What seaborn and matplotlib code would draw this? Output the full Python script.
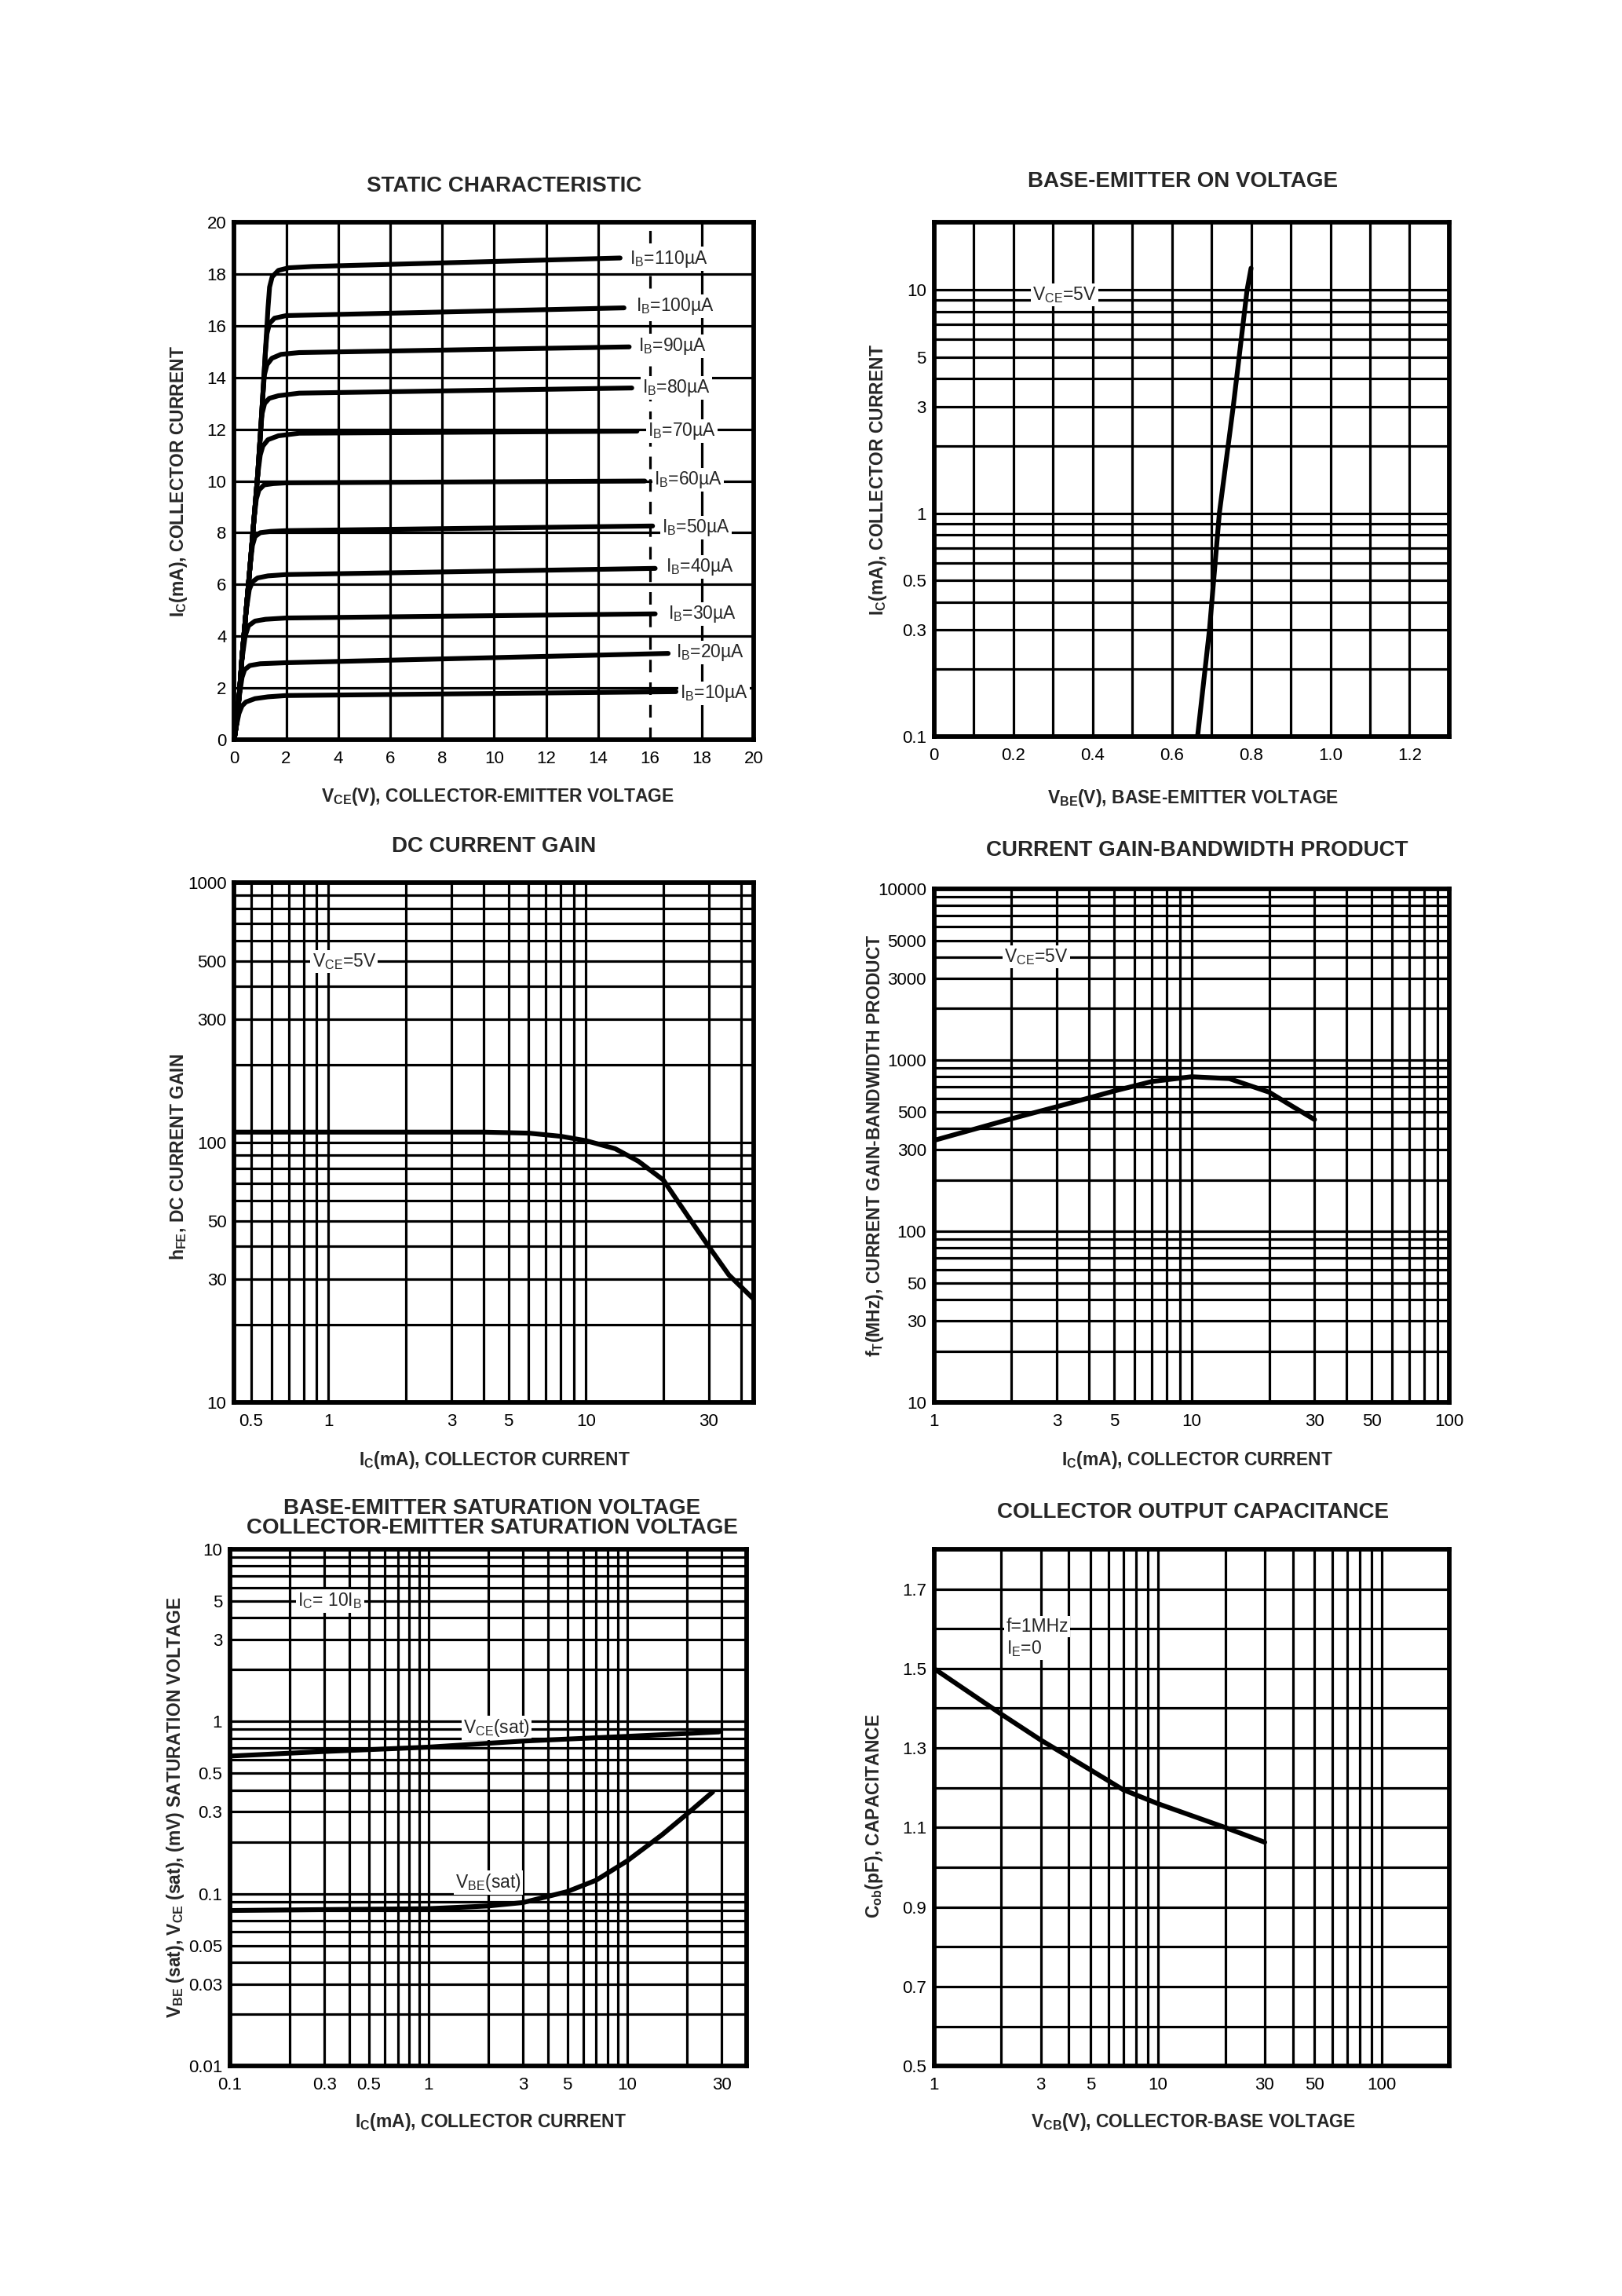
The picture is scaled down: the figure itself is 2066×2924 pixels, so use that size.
import numpy as np
import pandas as pd
import matplotlib
matplotlib.use("Agg")
import matplotlib.pyplot as plt
import seaborn as sns
from matplotlib.ticker import NullFormatter, FixedLocator, LogLocator

sns.set_style("white")
plt.rcParams['font.family'] = ['Liberation Sans', 'DejaVu Sans']
plt.rcParams['mathtext.fontset'] = 'custom'
plt.rcParams['mathtext.rm'] = 'Liberation Sans'
plt.rcParams['mathtext.it'] = 'Liberation Sans'
plt.rcParams['mathtext.bf'] = 'Liberation Sans:bold'

# ---------------- DATA ----------------
# Static characteristic: IC (mA) vs VCE (V) for IB = 10..110 uA
ib_values = [10, 20, 30, 40, 50, 60, 70, 80, 90, 100, 110]
vce_ib10 = [0, 0.08, 0.18, 0.3, 0.45, 0.8, 1.3, 2.0, 17.0]
ic_ib10 = [0, 0.5, 1.0, 1.3, 1.45, 1.58, 1.65, 1.70, 1.85]
vce_ib20 = [0, 0.1, 0.2, 0.3, 0.4, 0.6, 1.0, 2.0, 16.7]
ic_ib20 = [0, 0.7, 1.7, 2.4, 2.7, 2.86, 2.93, 2.97, 3.33]
vce_ib30 = [0, 0.1, 0.2, 0.3, 0.42, 0.55, 0.8, 1.2, 2.0, 16.2]
ic_ib30 = [0, 0.7, 1.8, 3.1, 4.0, 4.4, 4.58, 4.65, 4.70, 4.86]
vce_ib40 = [0, 0.1, 0.2, 0.3, 0.45, 0.58, 0.7, 0.9, 1.3, 2.0, 16.2]
ic_ib40 = [0, 0.7, 1.8, 3.2, 4.9, 5.8, 6.1, 6.25, 6.33, 6.38, 6.62]
vce_ib50 = [0, 0.1, 0.2, 0.3, 0.45, 0.6, 0.7, 0.8, 1.0, 1.4, 2.0, 16.1]
ic_ib50 = [0, 0.7, 1.8, 3.2, 4.9, 6.6, 7.5, 7.85, 8.0, 8.05, 8.08, 8.26]
vce_ib60 = [0, 0.1, 0.2, 0.3, 0.45, 0.6, 0.75, 0.85, 0.95, 1.15, 1.5, 2.0, 15.8]
ic_ib60 = [0, 0.7, 1.8, 3.2, 4.9, 6.6, 8.4, 9.3, 9.65, 9.85, 9.9, 9.93, 10.0]
vce_ib70 = [0, 0.1, 0.2, 0.3, 0.45, 0.6, 0.75, 0.9, 1.0, 1.1, 1.3, 1.7, 2.5, 15.5]
ic_ib70 = [0, 0.7, 1.8, 3.2, 4.9, 6.6, 8.4, 10.2, 11.0, 11.35, 11.6, 11.75, 11.85, 11.93]
vce_ib80 = [0, 0.1, 0.2, 0.3, 0.45, 0.6, 0.75, 0.9, 1.0, 1.07, 1.17, 1.35, 1.7, 2.5, 15.3]
ic_ib80 = [0, 0.7, 1.8, 3.2, 4.9, 6.6, 8.4, 10.2, 11.7, 12.6, 13.0, 13.2, 13.3, 13.4, 13.6]
vce_ib90 = [0, 0.1, 0.2, 0.3, 0.45, 0.6, 0.75, 0.9, 1.0, 1.1, 1.16, 1.26, 1.45, 1.8, 2.5, 15.2]
ic_ib90 = [0, 0.7, 1.8, 3.2, 4.9, 6.6, 8.4, 10.2, 11.7, 13.3, 14.1, 14.5, 14.75, 14.9, 14.97, 15.19]
vce_ib100 = [0, 0.1, 0.2, 0.3, 0.45, 0.6, 0.75, 0.9, 1.0, 1.1, 1.2, 1.26, 1.36, 1.55, 2.0, 15.0]
ic_ib100 = [0, 0.7, 1.8, 3.2, 4.9, 6.6, 8.4, 10.2, 11.7, 13.3, 15.0, 15.7, 16.1, 16.3, 16.4, 16.7]
vce_ib110 = [0, 0.1, 0.2, 0.3, 0.45, 0.6, 0.75, 0.9, 1.0, 1.1, 1.2, 1.3, 1.36, 1.46, 1.7, 2.1, 3.0, 14.85]
ic_ib110 = [0, 0.7, 1.8, 3.2, 4.9, 6.6, 8.4, 10.2, 11.7, 13.3, 15.0, 16.7, 17.5, 17.9, 18.15, 18.25, 18.3, 18.63]
static_vce = [vce_ib10, vce_ib20, vce_ib30, vce_ib40, vce_ib50, vce_ib60,
              vce_ib70, vce_ib80, vce_ib90, vce_ib100, vce_ib110]
static_ic = [ic_ib10, ic_ib20, ic_ib30, ic_ib40, ic_ib50, ic_ib60,
             ic_ib70, ic_ib80, ic_ib90, ic_ib100, ic_ib110]

# Base-emitter on voltage
vbe_on = [0.665, 0.695, 0.72, 0.755, 0.79, 0.80]
ic_on = [0.1, 0.3, 1.0, 3.0, 10.0, 12.5]

# DC current gain
ic_hfe = [0.43, 1, 2, 4, 6, 8, 10, 13, 16, 20, 25, 30, 36, 45]
hfe = [110, 110, 110, 110, 109, 106, 102, 95, 85, 72, 52, 40, 31, 25]

# Current gain-bandwidth product
ic_ft = [1, 2, 3, 5, 7, 10, 14, 20, 25, 30]
ft = [340, 455, 535, 660, 750, 800, 780, 650, 530, 450]

# Saturation voltages
ic_vcesat = [0.1, 0.3, 1, 3, 10, 29]
vce_sat = [0.63, 0.67, 0.71, 0.77, 0.82, 0.87]
ic_vbesat = [0.1, 0.3, 1, 2, 3, 5, 7, 10, 15, 20, 27]
vbe_sat = [0.080, 0.081, 0.082, 0.085, 0.089, 0.103, 0.12, 0.155, 0.22, 0.29, 0.39]

# Collector output capacitance
vcb = [1, 2, 3, 5, 7, 10, 20, 30]
cob = [1.50, 1.385, 1.32, 1.245, 1.195, 1.16, 1.10, 1.063]

# ---------------- FIGURE ----------------
fig = plt.figure(figsize=(20.66, 29.24), dpi=100)
W, H = 1108.0, 1568.0


def add_axes(l, t, r, b):
    return fig.add_axes([l / W, 1 - b / H, (r - l) / W, (b - t) / H])


ax1 = add_axes(160, 152, 515, 505)
ax2 = add_axes(638, 152, 990, 503)
ax3 = add_axes(160, 603, 515, 958)
ax4 = add_axes(638, 607, 990, 958)
ax5 = add_axes(157, 1058, 510, 1411)
ax6 = add_axes(638, 1058, 990, 1411)

CURVE_LW = 4.4
GRID_LW = 2.3
TICK_FS = 16
NOTE_FS = 16.5
TITLE_FS = 20
LABEL_FS = 16.5


def curve(ax, x, y):
    sns.lineplot(x=x, y=y, ax=ax, color='black', linewidth=CURVE_LW,
                 sort=False, estimator=None, zorder=3)


def style(ax, xscale, yscale, xlim, ylim, xgrid, ygrid, xticks, xlabels, yticks, ylabels):
    ax.set_xscale(xscale)
    ax.set_yscale(yscale)
    ax.set_xlim(*xlim)
    ax.set_ylim(*ylim)
    if xgrid == 'log':
        ax.xaxis.set_minor_locator(LogLocator(base=10, subs=np.arange(1, 10), numticks=60))
    else:
        ax.xaxis.set_minor_locator(FixedLocator(xgrid))
    if ygrid == 'log':
        ax.yaxis.set_minor_locator(LogLocator(base=10, subs=np.arange(1, 10), numticks=60))
    else:
        ax.yaxis.set_minor_locator(FixedLocator(ygrid))
    ax.xaxis.remove_overlapping_locs = False
    ax.yaxis.remove_overlapping_locs = False
    ax.set_xticks(xticks, xlabels)
    ax.set_yticks(yticks, ylabels)
    ax.xaxis.set_minor_formatter(NullFormatter())
    ax.yaxis.set_minor_formatter(NullFormatter())
    ax.grid(False)
    ax.grid(which='minor', color='black', lw=GRID_LW)
    ax.set_axisbelow(True)
    for s in ax.spines.values():
        s.set_visible(True)
        s.set_linewidth(4.2)
        s.set_color('black')
    ax.tick_params(axis='both', which='minor', length=0)
    ax.tick_params(axis='x', which='major', length=0, pad=10, labelsize=TICK_FS, colors='black')
    ax.tick_params(axis='y', which='major', length=5, width=1.8, pad=2,
                   labelsize=TICK_FS, direction='out', colors='black')


def labels(ax, title, tpos, xlabel, xpos, ylabel, ypos):
    ax.text(tpos[0], tpos[1], title, transform=ax.transAxes, ha='center', va='center',
            fontsize=TITLE_FS, fontweight='bold', linespacing=0.95)
    ax.set_xlabel(xlabel, fontsize=LABEL_FS, fontweight='bold', va='center')
    ax.xaxis.set_label_coords(*xpos)
    ax.set_ylabel(ylabel, fontsize=LABEL_FS, fontweight='bold', va='center')
    ax.yaxis.set_label_coords(*ypos)


def note(ax, x, y, s, ha='center'):
    ax.text(x, y, s, fontsize=NOTE_FS, ha=ha, va='center', zorder=2.5,
            bbox=dict(facecolor='white', edgecolor='none', pad=1.5))


IC_LABEL = r"I$_{\mathbf{C}}$(mA), COLLECTOR CURRENT"

# ---- Panel 1: static characteristic ----
for vx, iy in zip(static_vce, static_ic):
    curve(ax1, vx, iy)
style(ax1, 'linear', 'linear', (0, 20), (0, 20),
      [0, 2, 4, 6, 8, 10, 12, 14, 18, 20], list(range(0, 21, 2)),
      list(range(0, 21, 2)), [str(v) for v in range(0, 21, 2)],
      list(range(0, 21, 2)), [str(v) for v in range(0, 21, 2)])
ax1.axvline(16, color='black', lw=GRID_LW, ls=(0, (5, 4)), zorder=0.6)
ib_label_x = [17.15, 17.0, 16.7, 16.6, 16.46, 16.15, 15.9, 15.69, 15.54, 15.46, 15.23]
ib_label_y = [1.78, 3.37, 4.86, 6.67, 8.2, 10.04, 11.94, 13.6, 15.2, 16.75, 18.6]
for ib, lx, ly in zip(ib_values, ib_label_x, ib_label_y):
    note(ax1, lx, ly, r"I$_{\mathrm{B}}$=" + f"{ib}µA", ha='left')
labels(ax1, "STATIC CHARACTERISTIC", (0.52, 1.071),
       r"V$_{\mathbf{CE}}$(V), COLLECTOR-EMITTER VOLTAGE", (0.507, -0.110),
       IC_LABEL, (-0.107, 0.5))

# ---- Panel 2: base-emitter on voltage ----
curve(ax2, vbe_on, ic_on)
style(ax2, 'linear', 'log', (0, 1.3), (0.1, 20),
      list(np.round(np.arange(0, 1.31, 0.1), 2)), 'log',
      [0, 0.2, 0.4, 0.6, 0.8, 1.0, 1.2], ["0", "0.2", "0.4", "0.6", "0.8", "1.0", "1.2"],
      [0.1, 0.3, 0.5, 1, 3, 5, 10], ["0.1", "0.3", "0.5", "1", "3", "5", "10"])
note(ax2, 0.33, 9.5, r"V$_{\mathrm{CE}}$=5V")
labels(ax2, "BASE-EMITTER ON VOLTAGE", (0.483, 1.080),
       r"V$_{\mathbf{BE}}$(V), BASE-EMITTER VOLTAGE", (0.503, -0.120),
       IC_LABEL, (-0.108, 0.5))

# ---- Panel 3: DC current gain ----
curve(ax3, ic_hfe, hfe)
style(ax3, 'log', 'log', (0.43, 45), (10, 1000), 'log', 'log',
      [0.5, 1, 3, 5, 10, 30], ["0.5", "1", "3", "5", "10", "30"],
      [10, 30, 50, 100, 300, 500, 1000], ["10", "30", "50", "100", "300", "500", "1000"])
note(ax3, 1.15, 500, r"V$_{\mathrm{CE}}$=5V")
labels(ax3, "DC CURRENT GAIN", (0.50, 1.070),
       IC_LABEL, (0.501, -0.110),
       r"h$_{\mathbf{FE}}$, DC CURRENT GAIN", (-0.107, 0.473))

# ---- Panel 4: current gain-bandwidth product ----
curve(ax4, ic_ft, ft)
style(ax4, 'log', 'log', (1, 100), (10, 10000), 'log', 'log',
      [1, 3, 5, 10, 30, 50, 100], ["1", "3", "5", "10", "30", "50", "100"],
      [10, 30, 50, 100, 300, 500, 1000, 3000, 5000, 10000],
      ["10", "30", "50", "100", "300", "500", "1000", "3000", "5000", "10000"])
note(ax4, 2.5, 4000, r"V$_{\mathrm{CE}}$=5V")
labels(ax4, "CURRENT GAIN-BANDWIDTH PRODUCT", (0.51, 1.074),
       IC_LABEL, (0.511, -0.111),
       r"f$_{\mathbf{T}}$(MHz), CURRENT GAIN-BANDWIDTH PRODUCT", (-0.114, 0.5))

# ---- Panel 5: saturation voltages ----
curve(ax5, ic_vcesat, vce_sat)
curve(ax5, ic_vbesat, vbe_sat)
style(ax5, 'log', 'log', (0.1, 40), (0.01, 10), 'log', 'log',
      [0.1, 0.3, 0.5, 1, 3, 5, 10, 30], ["0.1", "0.3", "0.5", "1", "3", "5", "10", "30"],
      [0.01, 0.03, 0.05, 0.1, 0.3, 0.5, 1, 3, 5, 10],
      ["0.01", "0.03", "0.05", "0.1", "0.3", "0.5", "1", "3", "5", "10"])
note(ax5, 0.32, 5, r"I$_{\mathrm{C}}$= 10I$_{\mathrm{B}}$")
note(ax5, 2.2, 0.92, r"V$_{\mathrm{CE}}$(sat)")
note(ax5, 2.0, 0.116, r"V$_{\mathrm{BE}}$(sat)")
labels(ax5, "BASE-EMITTER SATURATION VOLTAGE\nCOLLECTOR-EMITTER SATURATION VOLTAGE",
       (0.507, 1.06),
       IC_LABEL, (0.504, -0.108),
       r"V$_{\mathbf{BE}}$ (sat), V$_{\mathbf{CE}}$ (sat), (mV) SATURATION VOLTAGE", (-0.105, 0.5))

# ---- Panel 6: collector output capacitance ----
curve(ax6, vcb, cob)
style(ax6, 'log', 'linear', (1, 200), (0.5, 1.8), 'log',
      list(np.round(np.arange(0.5, 1.81, 0.1), 2)),
      [1, 3, 5, 10, 30, 50, 100], ["1", "3", "5", "10", "30", "50", "100"],
      [0.5, 0.7, 0.9, 1.1, 1.3, 1.5, 1.7], ["0.5", "0.7", "0.9", "1.1", "1.3", "1.5", "1.7"])
note(ax6, 2.1, 1.606, "f=1MHz", ha='left')
note(ax6, 2.1, 1.55, r"I$_{\mathrm{E}}$=0", ha='left')
labels(ax6, "COLLECTOR OUTPUT CAPACITANCE", (0.503, 1.071),
       r"V$_{\mathbf{CB}}$(V), COLLECTOR-BASE VOLTAGE", (0.503, -0.108),
       r"C$_{\mathbf{ob}}$(pF), CAPACITANCE", (-0.116, 0.484))

fig.savefig("out.png", dpi=100, facecolor='white')
